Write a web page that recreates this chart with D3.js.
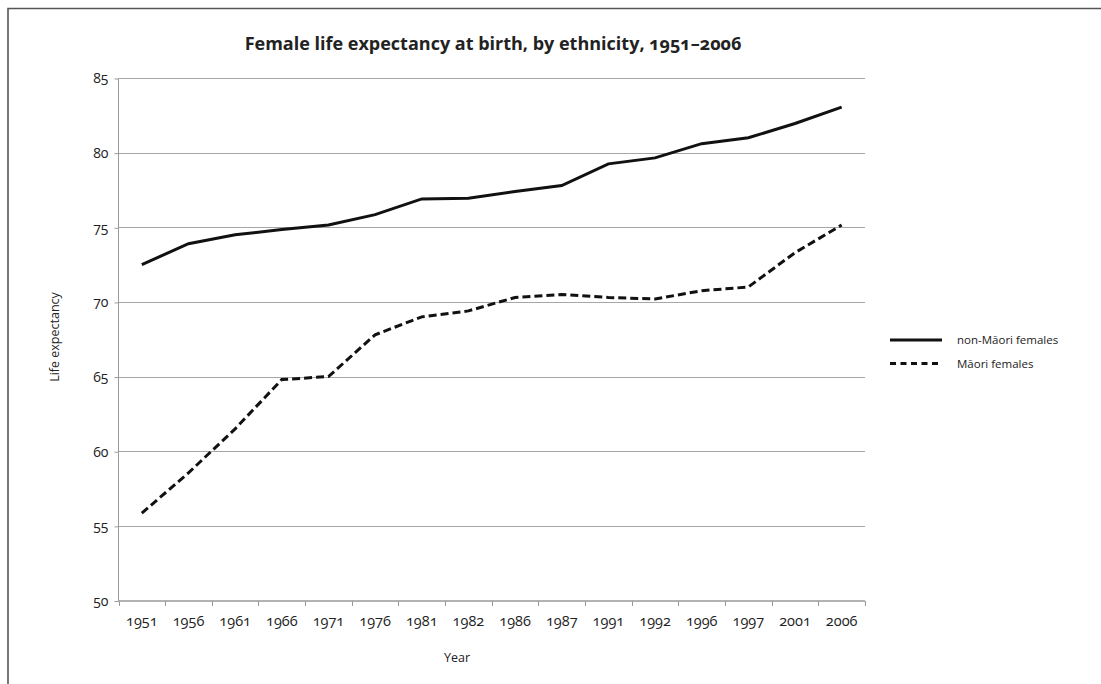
<!DOCTYPE html>
<html><head><meta charset="utf-8">
<script src="https://cdn.jsdelivr.net/npm/d3@7"></script>
<style>
body{margin:0;background:#fff;}
svg text{font-family:"Open Sans","Lato",sans-serif;fill:#222;}
</style></head>
<body><svg id="c" width="1101" height="684"></svg>
<script>
const years = ["1951","1956","1961","1966","1971","1976","1981","1982","1986","1987","1991","1992","1996","1997","2001","2006"];
const nonMaori = [72.5,73.9,74.5,74.85,75.15,75.85,76.9,76.95,77.4,77.8,79.25,79.65,80.6,81.0,81.95,83.05];
const maori = [55.85,58.55,61.5,64.8,65.0,67.8,69.0,69.4,70.3,70.5,70.3,70.2,70.75,71.0,73.3,75.15];
const yTicks = [50,55,60,65,70,75,80,85];
const seriesNames = ["non-Māori females","Māori females"];

const svg = d3.select("#c");
const L=118.5, R=865, T=78, B=600.5;
const x = d3.scaleBand().domain(years).range([L,R]).paddingInner(0).paddingOuter(0);
const y = d3.scaleLinear().domain([50,85]).range([B,T]);

// frame (top + left)
svg.append("path").attr("d",`M8,1101 L8,8.5 L1101,8.5`).attr("fill","none").attr("stroke","#555").attr("stroke-width",1.6);

// gridlines
svg.append("g").selectAll("line").data(yTicks.filter(d=>d>50)).join("line")
  .attr("x1",L).attr("x2",R).attr("y1",d=>Math.round(y(d))+0.5).attr("y2",d=>Math.round(y(d))+0.5)
  .attr("stroke","#a6a6a6").attr("stroke-width",1);

// y axis
const ya = svg.append("g").attr("transform",`translate(${L},0.5)`).call(d3.axisLeft(y).tickValues(yTicks).tickSize(4).tickPadding(6));
ya.select(".domain").attr("stroke","#999").attr("d",`M-0,${T}V${B}`);
ya.selectAll(".tick line").attr("stroke","#999");
ya.selectAll("text").attr("font-size","14px").style("font-variant-numeric","oldstyle-nums").attr("fill","#222");

// x axis
const xg = svg.append("g").attr("transform",`translate(0,${B+0.5})`);
xg.append("line").attr("x1",L).attr("x2",R).attr("stroke","#999").attr("stroke-width",1.5);
const bounds = years.map(d=>x(d)).concat([x(years[years.length-1])+x.bandwidth()]);
xg.selectAll("line.t").data(bounds).join("line").attr("class","t")
  .attr("x1",d=>Math.round(d)+0.5).attr("x2",d=>Math.round(d)+0.5).attr("y1",0).attr("y2",5).attr("stroke","#999");
xg.selectAll("text").data(years).join("text")
  .attr("x",d=>x(d)+x.bandwidth()/2).attr("y",25).attr("text-anchor","middle")
  .attr("font-size","14.5px").style("font-variant-numeric","oldstyle-nums").text(d=>d);

// lines
const line = d3.line().x((d,i)=>x(years[i])+x.bandwidth()/2).y(d=>y(d));
svg.append("path").datum(nonMaori).attr("d",line).attr("fill","none").attr("stroke","#111").attr("stroke-width",3);
svg.append("path").datum(maori).attr("d",line).attr("fill","none").attr("stroke","#111").attr("stroke-width",3).attr("stroke-dasharray","8,4");

// title
svg.append("text").attr("x",493).attr("y",50).attr("text-anchor","middle")
  .attr("font-size","18px").attr("font-weight","bold").style("font-variant-numeric","oldstyle-nums")
  .text("Female life expectancy at birth, by ethnicity, 1951–2006");

// axis titles
svg.append("text").attr("transform","translate(59,337) rotate(-90)").attr("text-anchor","middle")
  .attr("font-size","12.5px").text("Life expectancy");
svg.append("text").attr("x",457).attr("y",662).attr("text-anchor","middle")
  .attr("font-size","12.5px").text("Year");

// legend
const lg = svg.append("g");
const ly = [340,363.5];
lg.selectAll("line").data(seriesNames).join("line")
  .attr("x1",890).attr("x2",942).attr("y1",(d,i)=>ly[i]).attr("y2",(d,i)=>ly[i])
  .attr("stroke","#111").attr("stroke-width",3).attr("stroke-dasharray",(d,i)=>i? "6,4.5":null);
lg.selectAll("text").data(seriesNames).join("text")
  .attr("x",957).attr("y",(d,i)=>ly[i]+4).attr("font-size","11.5px").text(d=>d);
</script></body></html>
